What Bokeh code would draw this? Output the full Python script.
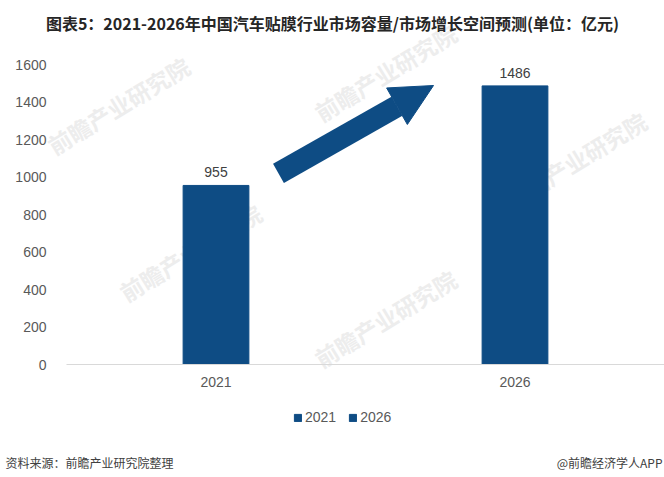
from bokeh.plotting import figure
from bokeh.models import (ColumnDataSource, LabelSet, Label, Arrow, NormalHead,
                          FixedTicker, Range1d)
from bokeh.core.properties import value
from bokeh.embed import file_html
from bokeh.resources import INLINE

# ---- data ----
years = ["2021", "2026"]
market_size = [955, 1486]
value_labels = ["955", "1486"]
y_ticks = [0, 200, 400, 600, 800, 1000, 1200, 1400, 1600]
title_text = "图表5：2021-2026年中国汽车贴膜行业市场容量/市场增长空间预测(单位：亿元)"
source_text = "资料来源：前瞻产业研究院整理"
brand_text = "@前瞻经济学人APP"
watermark_text = "前瞻产业研究院"

# ---- layout (pixels) ----
W, H = 664, 477
Y_TOP_PX, Y_ZERO_PX = 64, 364          # where 1600 and 0 sit, from top
X_FIRST_PX, X_STEP_PX = 215.5, 299.0    # centre of first category, spacing

BAR = "#0E4C84"
GRAY = "#595959"
CJK = "Noto Sans CJK SC"
LAT = "Liberation Sans"

xs = list(range(len(years)))
src = ColumnDataSource(dict(x=xs, year=years, value=market_size, label=value_labels))

y_max = y_ticks[-1]
ppu = (Y_ZERO_PX - Y_TOP_PX) / y_max
y_range = Range1d(-(H - Y_ZERO_PX) / ppu, y_max + Y_TOP_PX / ppu)
x_range = Range1d(-X_FIRST_PX / X_STEP_PX, -X_FIRST_PX / X_STEP_PX + W / X_STEP_PX)

p = figure(width=W, height=H, x_range=x_range, y_range=y_range,
           output_backend="svg", toolbar_location=None, min_border=0,
           outline_line_color=None)
p.xgrid.visible = False
p.ygrid.visible = False

# faint watermarks (behind everything)
for cx, cy in [(118, 105), (190, 252), (385, 72), (385, 318), (575, 160)]:
    p.add_layout(Label(x=cx, y=H - cy, x_units="screen", y_units="screen",
                       text=watermark_text, angle=0.55, text_align="center",
                       text_baseline="middle", text_font=CJK, text_font_size="23px",
                       text_font_style="bold", text_color="#EDEDED", level="underlay"))

p.vbar(x="x", top="value", width=0.22, source=src, color=BAR,
       legend_field="year")

# y axis, pinned half a category left of the first bar
p.yaxis.fixed_location = -0.5
p.yaxis.bounds = (0, y_max)
p.yaxis.ticker = FixedTicker(ticks=y_ticks)
p.yaxis.axis_line_color = None
p.yaxis.major_tick_line_color = None
p.yaxis.minor_tick_line_color = None
p.yaxis.major_tick_out = 0
p.yaxis.major_label_standoff = 20
p.yaxis.major_label_text_font = LAT
p.yaxis.major_label_text_font_size = "14px"
p.yaxis.major_label_text_color = GRAY

# x axis pinned at zero
p.xaxis.fixed_location = 0
p.xaxis.bounds = (-0.5, len(years) - 0.5)
p.xaxis.ticker = FixedTicker(ticks=xs)
p.xaxis.major_label_overrides = {i: y for i, y in zip(xs, years)}
p.xaxis.axis_line_color = "#D9D9D9"
p.xaxis.axis_line_width = 1
p.xaxis.major_tick_line_color = None
p.xaxis.minor_tick_line_color = None
p.xaxis.major_tick_out = 0
p.xaxis.major_label_standoff = 12
p.xaxis.major_label_text_font = LAT
p.xaxis.major_label_text_font_size = "14px"
p.xaxis.major_label_text_color = GRAY

# value labels
p.add_layout(LabelSet(x="x", y="value", text="label", source=src,
                      text_align="center", text_baseline="bottom", y_offset=8,
                      text_font=value(LAT), text_font_size="14px",
                      text_color="#404040"))

# growth arrow
p.add_layout(Arrow(end=NormalHead(size=42, fill_color=BAR, line_color=BAR, line_width=1),
                   x_start=0.209, y_start=1019, x_end=0.7275, y_end=1488,
                   line_color=BAR, line_width=22))

# legend
lg = p.legend[0]
lg.location = (293, 52)
lg.orientation = "horizontal"
lg.background_fill_alpha = 0
lg.border_line_color = None
lg.glyph_width = 9
lg.glyph_height = 9
lg.label_text_font = LAT
lg.label_text_font_size = "14px"
lg.label_text_color = GRAY
lg.spacing = 12
lg.padding = 0
lg.margin = 0
lg.label_standoff = 3

# title & footer
p.add_layout(Label(x=332, y=H - 22, x_units="screen", y_units="screen", text=title_text,
                   text_align="center", text_baseline="middle", text_font=CJK,
                   text_font_size="16px", text_font_style="bold", text_color="#262626"))
p.add_layout(Label(x=5, y=H - 462, x_units="screen", y_units="screen", text=source_text,
                   text_align="left", text_baseline="middle", text_font=CJK,
                   text_font_size="12px", text_color="#404040"))
p.add_layout(Label(x=662, y=H - 462, x_units="screen", y_units="screen", text=brand_text,
                   text_align="right", text_baseline="middle", text_font=CJK,
                   text_font_size="12px", text_color="#404040"))

open("out.html", "w").write(file_html(p, INLINE))
